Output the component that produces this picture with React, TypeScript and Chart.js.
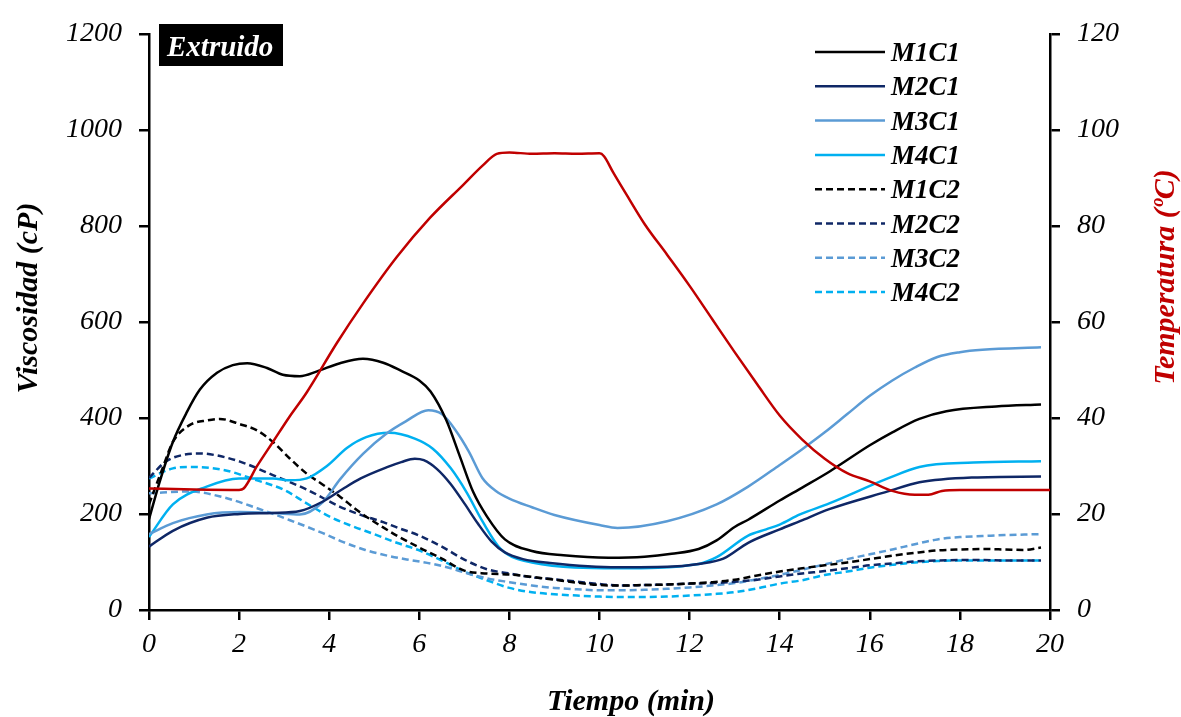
import { useEffect, useRef } from "react";
import { Chart, registerables } from "chart.js";

Chart.register(...registerables);

const FONT = "'Liberation Serif', 'Times New Roman', serif";

// Viscosity curves (cP) against time (min)
const tM1C1 = [0, 0.24, 0.53, 0.84, 1.13, 1.51, 1.86, 2.18, 2.62, 2.97, 3.35, 3.73, 4.24, 4.75, 5.2, 5.6, 6.0, 6.25, 6.6, 6.9, 7.2, 7.5, 7.9, 8.5, 9.2, 10.2, 11.0, 11.6, 12.2, 12.6, 13.0, 13.3, 14.0, 14.5, 15.1, 16.0, 16.5, 17.1, 17.7, 18.8, 19.8];
const vM1C1 = [189, 268, 350, 412, 459, 494, 510, 514, 504, 490, 487, 497, 514, 523, 515, 498, 478, 455, 395, 320, 245, 195, 147, 123, 114, 109, 111, 117, 127, 145, 173, 188, 228, 255, 288, 343, 370, 398, 414, 424, 428];

const tM2C1 = [0, 0.53, 1.28, 2.02, 2.75, 3.35, 3.86, 4.3, 4.7, 5.3, 5.6, 5.9, 6.1, 6.4, 6.7, 7.0, 7.3, 7.6, 7.9, 8.3, 8.9, 10.4, 11.5, 12.2, 12.75, 13.3, 14.0, 14.45, 15.1, 16.4, 17.1, 18.3, 19.8];
const vM2C1 = [132, 165, 192, 200, 202, 206, 226, 252, 274, 298, 308, 315, 312, 293, 262, 222, 180, 143, 120, 106, 98, 89, 90, 96, 107, 140, 168, 185, 210, 247, 266, 276, 278];

const tM3C1 = [0, 0.53, 1.28, 2.02, 2.75, 3.35, 3.86, 4.24, 4.75, 5.28, 5.7, 6.2, 6.5, 6.8, 7.1, 7.4, 7.7, 8.0, 8.5, 9.0, 10.0, 10.4, 11.5, 12.6, 13.3, 14.0, 14.5, 15.0, 15.5, 16.0, 16.5, 17.0, 17.5, 18.0, 18.5, 19.8];
const vM3C1 = [158, 181, 199, 204, 202, 199, 225, 272, 325, 368, 393, 416, 408, 375, 330, 275, 248, 232, 214, 198, 177, 171, 185, 220, 257, 302, 335, 370, 408, 446, 478, 505, 527, 537, 542, 547];

const tM4C1 = [0, 0.53, 1.28, 2.0, 2.75, 3.13, 3.5, 3.95, 4.4, 4.82, 5.33, 5.9, 6.3, 6.7, 7.05, 7.4, 7.8, 8.5, 10.4, 12.2, 12.6, 13.3, 13.7, 14.0, 14.45, 15.1, 16.4, 17.1, 18.3, 19.8];
const vM4C1 = [152, 220, 257, 274, 274, 270, 274, 300, 338, 360, 369, 357, 336, 295, 245, 185, 128, 99, 87, 96, 110, 155, 168, 178, 199, 222, 274, 298, 307, 310];

const tM1C2 = [0, 0.3, 0.53, 0.9, 1.3, 1.57, 2.02, 2.4, 2.75, 3.13, 3.5, 3.86, 4.24, 4.66, 5.18, 5.5, 6, 6.5, 7, 7.5, 8, 8.5, 9, 9.5, 10, 10.5, 11, 11.5, 12, 12.5, 13, 13.5, 14, 14.5, 15, 15.5, 16, 16.5, 17, 17.5, 18, 18.5, 19, 19.4, 19.8];
const vM1C2 = [220, 295, 350, 385, 395, 398, 387, 374, 350, 315, 284, 261, 236, 205, 173, 155, 130, 107, 82, 76, 74, 69, 63, 57, 52, 51, 52, 53, 55, 58, 63, 72, 80, 87, 93, 99, 106, 113, 119, 124, 126, 127, 126, 125, 130];

const tM2C2 = [0, 0.37, 0.75, 1.13, 1.5, 2.02, 2.75, 3.5, 4.24, 4.7, 5.2, 5.5, 6, 6.5, 7, 7.5, 8, 8.5, 9, 9.5, 10, 10.5, 11, 11.5, 12, 12.5, 13, 13.5, 14, 14.5, 15, 15.5, 16, 16.5, 17, 17.5, 18, 18.5, 19, 19.8];
const vM2C2 = [275, 309, 323, 326, 322, 309, 281, 251, 215, 198, 183, 172, 155, 132, 105, 85, 76, 68, 64, 59, 54, 51, 52, 53, 55, 56, 59, 63, 70, 76, 81, 87, 93, 97, 101, 103, 104, 104, 103, 103];

const tM3C2 = [0, 0.9, 1.64, 2.4, 3.13, 3.86, 4.3, 4.8, 5.3, 5.8, 6.3, 6.7, 7, 7.5, 8, 8.5, 9, 9.5, 10, 10.5, 11, 11.5, 12, 12.5, 13, 13.5, 14, 14.5, 15, 15.5, 16, 16.5, 17, 17.5, 18, 18.5, 19, 19.8];
const vM3C2 = [243, 247, 235, 212, 187, 160, 142, 125, 113, 104, 96, 87, 78, 66, 58, 51, 46, 43, 41, 41, 42, 44, 47, 51, 56, 64, 73, 84, 95, 106, 116, 126, 137, 147, 152, 154, 156, 158];

const tM4C2 = [0, 0.53, 0.9, 1.64, 2.4, 3.0, 3.5, 4.0, 4.5, 5, 5.5, 6, 6.5, 7, 7.5, 8, 8.5, 9, 9.5, 10, 10.5, 11, 11.5, 12, 12.5, 13, 13.5, 14, 14.5, 15, 15.5, 16, 16.5, 17, 17.5, 18, 18.5, 19, 19.8];
const vM4C2 = [274, 295, 298, 292, 270, 250, 222, 195, 175, 158, 140, 124, 103, 80, 62, 46, 37, 33, 30, 28, 27, 27, 28, 30, 33, 37, 45, 55, 62, 73, 80, 88, 94, 99, 102, 103, 103, 103, 103];

// Temperature profile (°C) on the right axis
const tTemp = [0, 1, 2, 2.1, 2.4, 2.75, 3.1, 3.5, 4.17, 4.75, 5.5, 6.24, 6.97, 7.41, 7.72, 8, 8.5, 9, 9.5, 10, 10.1, 10.3, 10.6, 11, 11.5, 12, 12.5, 13, 13.5, 14, 14.5, 15, 15.5, 16, 16.5, 17, 17.3, 17.6, 18, 19, 20];
const vTemp = [25.3, 25.1, 25, 25.3, 30, 35, 40, 45.3, 55.6, 63.8, 73.5, 81.7, 88.5, 92.6, 95, 95.3, 95, 95.1, 95, 95.1, 94.5, 91.2, 86.5, 80.4, 74, 67.5, 60.6, 53.7, 47, 40.5, 35.5, 31.5, 28.5, 26.8, 24.8, 24, 24, 24.8, 25, 25, 25];

const seriesLabels = ["M1C1", "M2C1", "M3C1", "M4C1", "M1C2", "M2C2", "M3C2", "M4C2"];
const seriesTimes = [tM1C1, tM2C1, tM3C1, tM4C1, tM1C2, tM2C2, tM3C2, tM4C2];
const seriesValues = [vM1C1, vM2C1, vM3C1, vM4C1, vM1C2, vM2C2, vM3C2, vM4C2];
const seriesColors = ["#000000", "#0F2766", "#5B9BD5", "#00B0F0", "#000000", "#0F2766", "#5B9BD5", "#00B0F0"];
const seriesDashed = [false, false, false, false, true, true, true, true];

const xTicksStep = 2;
const viscTicksStep = 200;
const tempTicksStep = 20;

const toPoints = (t: number[], v: number[]) => t.map((x, i) => ({ x, y: v[i] }));

const tickFont = { family: FONT, size: 28, style: "italic" as const };
const plainLabel = (value: number | string) => String(value);

const annotations = {
  id: "annotations",
  afterDraw(chart: any) {
    const ctx = chart.ctx as CanvasRenderingContext2D;
    ctx.save();

    // Label box in the top-left corner
    ctx.fillStyle = "#000";
    ctx.fillRect(159, 24, 124, 42);
    ctx.fillStyle = "#fff";
    ctx.font = `italic bold 29px ${FONT}`;
    ctx.textAlign = "left";
    ctx.textBaseline = "alphabetic";
    ctx.fillText("Extruido", 167, 56);

    // Legend for the viscosity series
    const sets = chart.data.datasets.filter((d: any) => d.yAxisID === "y");
    sets.forEach((d: any, i: number) => {
      const y = 52 + i * 34.3;
      ctx.beginPath();
      ctx.setLineDash(d.borderDash || []);
      ctx.strokeStyle = d.borderColor;
      ctx.lineWidth = 2.5;
      ctx.moveTo(815, y);
      ctx.lineTo(885, y);
      ctx.stroke();
      ctx.setLineDash([]);
      ctx.fillStyle = "#000";
      ctx.font = `italic bold 27px ${FONT}`;
      ctx.textAlign = "left";
      ctx.textBaseline = "alphabetic";
      ctx.fillText(d.label, 891, y + 9);
    });

    // Axis titles
    ctx.font = `italic bold 30px ${FONT}`;
    ctx.textAlign = "center";
    ctx.textBaseline = "alphabetic";
    ctx.fillStyle = "#000";
    ctx.fillText("Tiempo (min)", 631, 710);

    ctx.save();
    ctx.translate(37, 298);
    ctx.rotate(-Math.PI / 2);
    ctx.fillText("Viscosidad (cP)", 0, 0);
    ctx.restore();

    ctx.save();
    ctx.translate(1174, 277);
    ctx.rotate(-Math.PI / 2);
    ctx.fillStyle = "#C00000";
    ctx.fillText("Temperatura (ºC)", 0, 0);
    ctx.restore();

    ctx.restore();
  },
};

export default function App() {
  const canvasRef = useRef<HTMLCanvasElement | null>(null);

  useEffect(() => {
    if (!canvasRef.current) return;
    const datasets: any[] = [
      {
        label: "Temperatura",
        data: toPoints(tTemp, vTemp),
        yAxisID: "yT",
        borderColor: "#C00000",
        borderWidth: 2.5,
        pointRadius: 0,
        cubicInterpolationMode: "monotone",
        order: 0,
      },
      ...seriesLabels.map((label, i) => ({
        label,
        data: toPoints(seriesTimes[i], seriesValues[i]),
        yAxisID: "y",
        borderColor: seriesColors[i],
        borderWidth: 2.5,
        borderDash: seriesDashed[i] ? [7, 4] : [],
        pointRadius: 0,
        cubicInterpolationMode: "monotone",
        order: 1,
      })),
    ];

    const axisGrid = { drawOnChartArea: false, tickLength: 10, lineWidth: 2.5, color: "#000" };
    const axisBorder = { color: "#000", width: 2.5 };

    const chart = new Chart(canvasRef.current, {
      type: "line",
      data: { datasets },
      plugins: [annotations],
      options: {
        animation: false,
        responsive: false,
        maintainAspectRatio: false,
        layout: { padding: { top: 27, left: 0, right: 0, bottom: 0 } },
        plugins: { legend: { display: false }, tooltip: { enabled: false }, title: { display: false } },
        scales: {
          x: {
            type: "linear",
            min: 0,
            max: 20,
            ticks: { stepSize: xTicksStep, font: tickFont, color: "#000", padding: 8, maxRotation: 0, callback: plainLabel },
            grid: axisGrid,
            border: axisBorder,
            afterFit: (s: any) => {
              s.height = 107;
            },
          },
          y: {
            type: "linear",
            position: "left",
            min: 0,
            max: 1200,
            ticks: { stepSize: viscTicksStep, font: tickFont, color: "#000", padding: 17, callback: plainLabel },
            grid: axisGrid,
            border: axisBorder,
            afterFit: (s: any) => {
              s.width = 149;
            },
          },
          yT: {
            type: "linear",
            position: "right",
            min: 0,
            max: 120,
            ticks: { stepSize: tempTicksStep, font: tickFont, color: "#000", padding: 17, callback: plainLabel },
            grid: axisGrid,
            border: axisBorder,
            afterFit: (s: any) => {
              s.width = 131;
            },
          },
        },
      } as any,
    });
    return () => chart.destroy();
  }, []);

  return (
    <div style={{ position: "absolute", left: 0, top: 0, width: 1181, height: 717, background: "#fff" }}>
      <canvas ref={canvasRef} width={1181} height={717} />
    </div>
  );
}
